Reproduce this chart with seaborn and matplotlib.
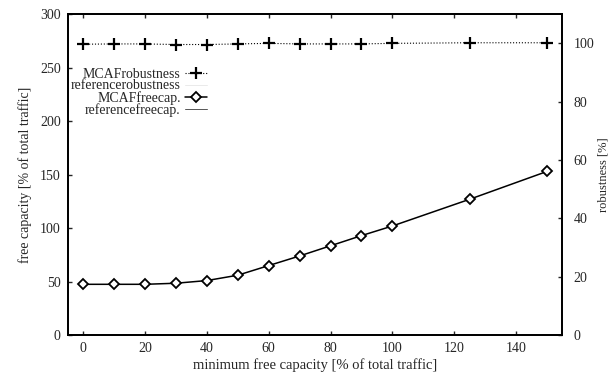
import matplotlib
matplotlib.use("Agg")
import matplotlib.pyplot as plt
import pandas as pd
import seaborn as sns

# minimum free capacity settings [% of total traffic]
min_free = [0, 10, 20, 30, 40, 50, 60, 70, 80, 90, 100, 125, 150]

# left axis: free capacity [% of total traffic]
mcaf_freecap = [47.5, 47.5, 47.5, 48.5, 51, 56, 65, 74, 83.5, 93, 102, 127, 153]
reference_freecap = [0, 0, 0, 0, 0, 0, 0, 0, 0, 0, 0, 0, 0]

# right axis: robustness [%]
mcaf_robustness = [99.7, 99.8, 99.8, 99.6, 99.6, 99.8, 100, 99.8, 99.8, 99.8, 100, 100.2, 100.2]
reference_robustness = [0, 0, 0, 0, 0, 0, 0, 0, 0, 0, 0, 0, 0]

x_ticks = [0, 20, 40, 60, 80, 100, 120, 140]
left_ticks = [0, 50, 100, 150, 200, 250, 300]
right_ticks = [0, 20, 40, 60, 80, 100]

df = pd.DataFrame({
    "min_free": min_free,
    "mcaf_freecap": mcaf_freecap,
    "reference_freecap": reference_freecap,
    "mcaf_robustness": mcaf_robustness,
    "reference_robustness": reference_robustness,
})

sns.set_style("ticks")
plt.rcParams["font.family"] = ["Liberation Serif", "DejaVu Serif"]

fig, ax = plt.subplots(figsize=(6.10, 3.83), dpi=100)
fig.subplots_adjust(left=0.111, right=0.922, top=0.963, bottom=0.125)
ax2 = ax.twinx()

# robustness (right axis)
sns.lineplot(data=df, x="min_free", y="mcaf_robustness", ax=ax2, color="black",
             linestyle=":", linewidth=0.8, label="MCAFrobustness", legend=False)
ax2.plot(df["min_free"], df["mcaf_robustness"], linestyle="none", marker="+",
         markersize=9, markeredgewidth=1.6, color="black")
sns.lineplot(data=df, x="min_free", y="reference_robustness", ax=ax2,
             color="#e6e6e6", linewidth=0.6, label="referencerobustness", legend=False)

# free capacity (left axis)
sns.lineplot(data=df, x="min_free", y="mcaf_freecap", ax=ax, color="black",
             linewidth=1.1, marker="D", markersize=5, markerfacecolor="white",
             markeredgecolor="black", markeredgewidth=1.3,
             label="MCAFfreecap.", legend=False)
sns.lineplot(data=df, x="min_free", y="reference_freecap", ax=ax, color="#555555",
             linewidth=0.7, label="referencefreecap.", legend=False)

ax.set_xlim(-5, 155)
ax.set_ylim(0, 300)
ax2.set_ylim(0, 110)
ax.set_xticks(x_ticks)
ax.set_yticks(left_ticks)
ax2.set_yticks(right_ticks)

ax.set_xlabel("minimum free capacity [% of total traffic]", fontsize=10.5, labelpad=2)
ax.set_ylabel("free capacity [% of total traffic]", fontsize=10, labelpad=6)
ax2.set_ylabel("robustness [%]", fontsize=9, labelpad=2)

ax.tick_params(axis="both", direction="in", length=3, width=1, labelsize=10,
               top=True, pad=5)
ax.tick_params(axis="y", right=False)
ax2.tick_params(axis="y", direction="in", length=3, width=1, labelsize=10, pad=8)

for a in (ax, ax2):
    for s in a.spines.values():
        s.set_linewidth(1.3)
        s.set_color("black")
        s.set_visible(True)

# legend with labels first, right-aligned
rob_handle = matplotlib.lines.Line2D([], [], color="black", linestyle=":",
                                     linewidth=0.8, marker="+", markersize=9,
                                     markeredgewidth=1.6)
handles = [rob_handle, ax2.get_lines()[2], ax.get_lines()[0], ax.get_lines()[1]]
labels = ["MCAFrobustness", "referencerobustness", "MCAFfreecap.", "referencefreecap."]
leg = ax.legend(handles, labels, loc="upper left", bbox_to_anchor=(-0.005, 0.85),
                markerfirst=False, frameon=False, fontsize=10, handlelength=1.6,
                handletextpad=0.3, labelspacing=-0.1, borderaxespad=0.0)

fig.savefig("out.png", dpi=100)
